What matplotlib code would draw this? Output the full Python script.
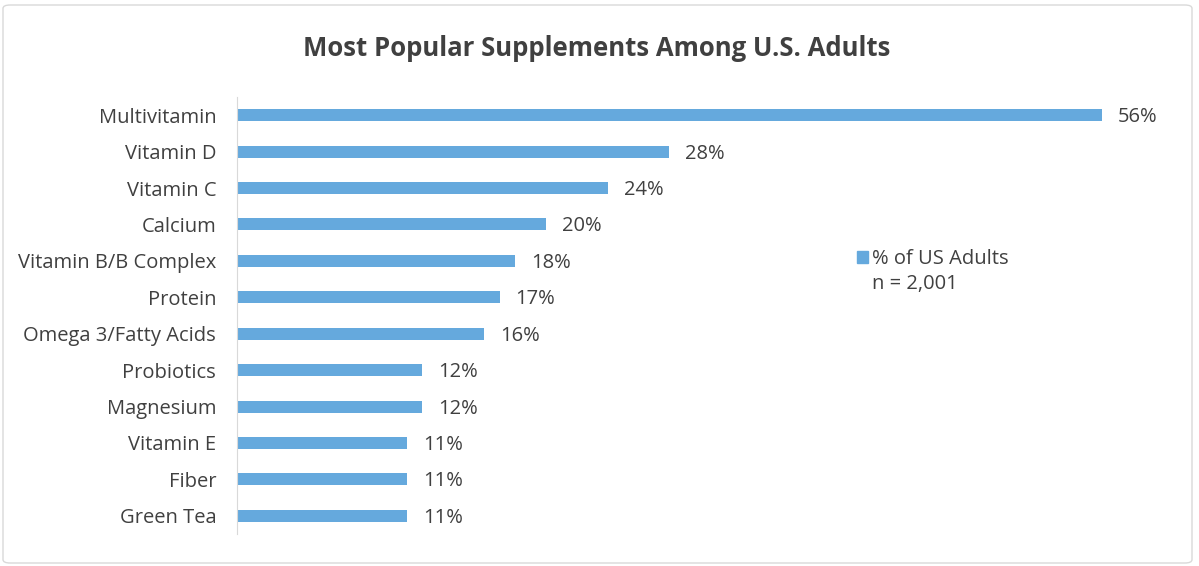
import matplotlib
matplotlib.use("Agg")
import matplotlib.pyplot as plt
from matplotlib.patches import FancyBboxPatch, Patch

categories = ["Multivitamin", "Vitamin D", "Vitamin C", "Calcium", "Vitamin B/B Complex",
              "Protein", "Omega 3/Fatty Acids", "Probiotics", "Magnesium", "Vitamin E",
              "Fiber", "Green Tea"]
values = [56, 28, 24, 20, 18, 17, 16, 12, 12, 11, 11, 11]
series_name = "% of US Adults"
note = "n = 2,001"
title = "Most Popular Supplements Among U.S. Adults"

plt.rcParams['font.family'] = ['Open Sans', 'DejaVu Sans']
text_color = "#404040"
bar_color = "#65A9DD"
fs = 14.5

W, H = 1199, 566
fig = plt.figure(figsize=(W / 100, H / 100), dpi=100)
ax = fig.add_axes([237 / W, 1 - 534 / H, (1179 - 237) / W, (534 - 97) / H])

y = list(range(len(categories)))
ax.barh(y, values, height=0.33, color=bar_color, label=series_name)
ax.set_ylim(len(categories) - 0.5, -0.5)
ax.set_xlim(0, 61)
ax.set_yticks(y)
ax.set_yticklabels(categories, fontsize=fs, color=text_color)
ax.tick_params(axis='y', length=0, pad=15)
ax.set_xticks([])
for s in ["top", "right", "bottom"]:
    ax.spines[s].set_visible(False)
ax.spines["left"].set_color("#D9D9D9")

for yi, v in zip(y, values):
    ax.annotate(f"{v}%", (v, yi), xytext=(16, -2), textcoords="offset pixels",
                va="center", ha="left", fontsize=fs, color=text_color)

handles = [Patch(color=bar_color), Patch(color="none")]
leg = fig.legend(handles, [series_name, note], loc="upper left",
                 bbox_to_anchor=(857 / W, 1 - 249 / H), frameon=False,
                 fontsize=fs, handlelength=0.55, handleheight=0.55, handletextpad=0.2,
                 labelspacing=0.25, borderaxespad=0, borderpad=0)
for t in leg.get_texts():
    t.set_color(text_color)

fig.text(597 / W, 1 - 49 / H, title, ha="center", va="center", fontsize=18.5,
         fontweight="bold", color=text_color)

border = FancyBboxPatch((3 / W, 3 / H), (1192 - 3) / W, (561 - 3) / H,
                        boxstyle="round,pad=0,rounding_size=0.006",
                        transform=fig.transFigure, fill=False, edgecolor="#D9D9D9", linewidth=1)
fig.patches.append(border)

fig.savefig("out.png", dpi=100)
